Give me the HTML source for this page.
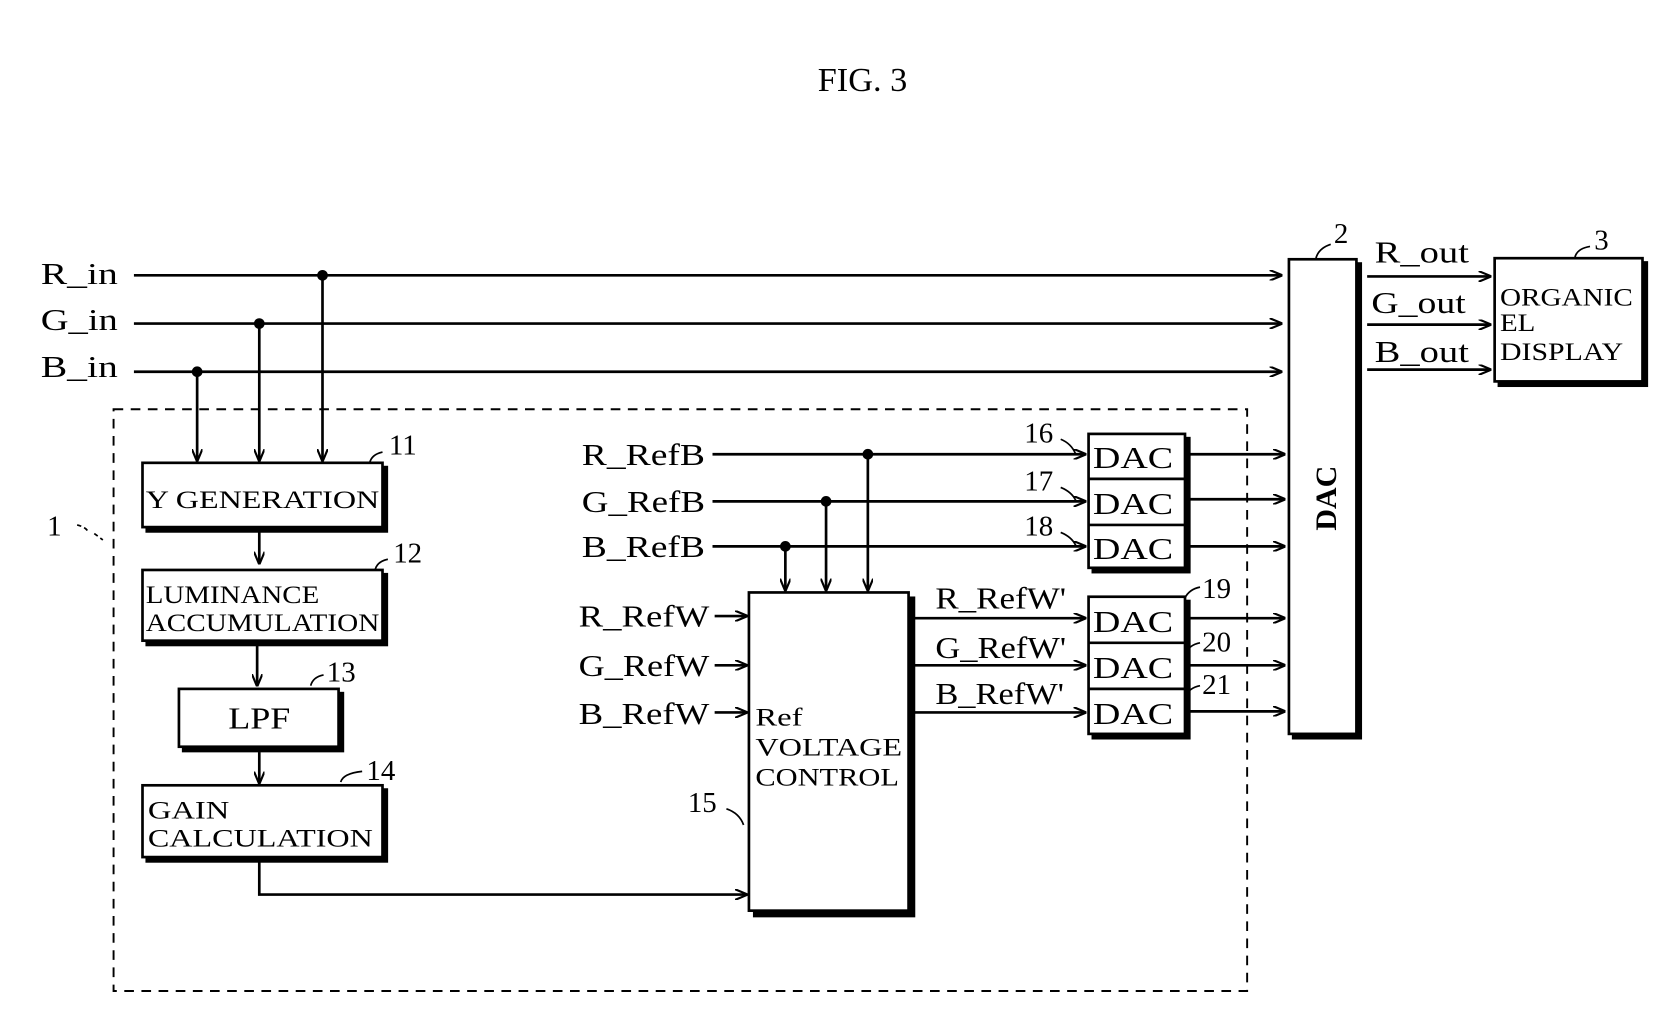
<!DOCTYPE html>
<html><head><meta charset="utf-8"><style>html,body{margin:0;padding:0;background:#fff}svg{display:block}</style></head>
<body>
<svg width="1680" height="1036" viewBox="0 0 1568 967" preserveAspectRatio="none" xmlns="http://www.w3.org/2000/svg" font-family="Liberation Serif, serif" fill="#000">
<defs>
<marker id="a" markerWidth="12" markerHeight="10" refX="11" refY="5" orient="auto" markerUnits="userSpaceOnUse">
<path d="M0,0 L12,5 L0,10" fill="none" stroke="#000" stroke-width="2"/></marker>
</defs>
<rect width="1568" height="967" fill="#fff"/>
<text x="805" y="85" font-size="32" text-anchor="middle">FIG. 3</text>
<g stroke="#000" stroke-width="2.5" fill="none">
<line x1="125" y1="257" x2="1196" y2="257" marker-end="url(#a)"/>
<line x1="125" y1="302" x2="1196" y2="302" marker-end="url(#a)"/>
<line x1="125" y1="347" x2="1196" y2="347" marker-end="url(#a)"/>
<line x1="301" y1="257" x2="301" y2="430" marker-end="url(#a)"/>
<line x1="242" y1="302" x2="242" y2="430" marker-end="url(#a)"/>
<line x1="184" y1="347" x2="184" y2="430" marker-end="url(#a)"/>
<rect x="106" y="382" width="1058" height="543" stroke-dasharray="9,7" stroke-width="1.8"/>
<line x1="242" y1="494" x2="242" y2="526" marker-end="url(#a)"/>
<line x1="240" y1="602" x2="240" y2="640" marker-end="url(#a)"/>
<line x1="242" y1="702" x2="242" y2="731" marker-end="url(#a)"/>
<polyline points="242,802 242,835 697,835" marker-end="url(#a)"/>
<line x1="665" y1="424" x2="1013" y2="424" marker-end="url(#a)"/>
<line x1="665" y1="468" x2="1013" y2="468" marker-end="url(#a)"/>
<line x1="665" y1="510" x2="1013" y2="510" marker-end="url(#a)"/>
<line x1="810" y1="424" x2="810" y2="551" marker-end="url(#a)"/>
<line x1="771" y1="468" x2="771" y2="551" marker-end="url(#a)"/>
<line x1="733" y1="510" x2="733" y2="551" marker-end="url(#a)"/>
<line x1="667" y1="575" x2="697" y2="575" marker-end="url(#a)"/>
<line x1="667" y1="621" x2="697" y2="621" marker-end="url(#a)"/>
<line x1="667" y1="665" x2="697" y2="665" marker-end="url(#a)"/>
<line x1="850" y1="577" x2="1013" y2="577" marker-end="url(#a)"/>
<line x1="850" y1="621" x2="1013" y2="621" marker-end="url(#a)"/>
<line x1="850" y1="665" x2="1013" y2="665" marker-end="url(#a)"/>
<line x1="1108" y1="424" x2="1199" y2="424" marker-end="url(#a)"/>
<line x1="1108" y1="466" x2="1199" y2="466" marker-end="url(#a)"/>
<line x1="1108" y1="510" x2="1199" y2="510" marker-end="url(#a)"/>
<line x1="1108" y1="577" x2="1199" y2="577" marker-end="url(#a)"/>
<line x1="1108" y1="621" x2="1199" y2="621" marker-end="url(#a)"/>
<line x1="1108" y1="664" x2="1199" y2="664" marker-end="url(#a)"/>
<line x1="1276" y1="258" x2="1391" y2="258" marker-end="url(#a)"/>
<line x1="1276" y1="303" x2="1391" y2="303" marker-end="url(#a)"/>
<line x1="1276" y1="345" x2="1391" y2="345" marker-end="url(#a)"/>
</g>
<g fill="#000">
<circle cx="301" cy="257" r="5"/><circle cx="242" cy="302" r="5"/><circle cx="184" cy="347" r="5"/>
<circle cx="810" cy="424" r="5"/><circle cx="771" cy="468" r="5"/><circle cx="733" cy="510" r="5"/>
</g>
<g stroke="#000" stroke-width="2.5">
<rect x="137" y="436" width="224" height="60"/><rect x="133" y="432" width="224" height="60" fill="#fff"/>
<rect x="137" y="536" width="224" height="66"/><rect x="133" y="532" width="224" height="66" fill="#fff"/>
<rect x="171" y="647" width="149" height="54"/><rect x="167" y="643" width="149" height="54" fill="#fff"/>
<rect x="137" y="737" width="224" height="67"/><rect x="133" y="733" width="224" height="67" fill="#fff"/>
<rect x="704" y="558" width="149" height="297"/><rect x="699" y="553" width="149" height="297" fill="#fff"/>
<rect x="1020" y="409" width="90" height="125"/><rect x="1016" y="405" width="90" height="125" fill="#fff"/>
<line x1="1016" y1="447" x2="1106" y2="447"/><line x1="1016" y1="490" x2="1106" y2="490"/>
<rect x="1020" y="561" width="90" height="128"/><rect x="1016" y="557" width="90" height="128" fill="#fff"/>
<line x1="1016" y1="600" x2="1106" y2="600"/><line x1="1016" y1="643" x2="1106" y2="643"/>
<rect x="1207" y="246" width="63" height="443"/><rect x="1203" y="242" width="63" height="443" fill="#fff"/>
<rect x="1399" y="245" width="138" height="115"/><rect x="1395" y="241" width="138" height="115" fill="#fff"/>
</g>
<g font-size="29" lengthAdjust="spacingAndGlyphs">
<text x="38" y="265" textLength="72" lengthAdjust="spacingAndGlyphs">R_in</text>
<text x="38" y="308" textLength="72" lengthAdjust="spacingAndGlyphs">G_in</text>
<text x="38" y="352" textLength="72" lengthAdjust="spacingAndGlyphs">B_in</text>
<text x="543" y="434" textLength="115" lengthAdjust="spacingAndGlyphs">R_RefB</text>
<text x="543" y="478" textLength="115" lengthAdjust="spacingAndGlyphs">G_RefB</text>
<text x="543" y="520" textLength="115" lengthAdjust="spacingAndGlyphs">B_RefB</text>
<text x="540" y="585" textLength="122" lengthAdjust="spacingAndGlyphs">R_RefW</text>
<text x="540" y="631" textLength="122" lengthAdjust="spacingAndGlyphs">G_RefW</text>
<text x="540" y="676" textLength="122" lengthAdjust="spacingAndGlyphs">B_RefW</text>
<text x="873" y="568" textLength="122" lengthAdjust="spacingAndGlyphs">R_RefW'</text>
<text x="873" y="614" textLength="122" lengthAdjust="spacingAndGlyphs">G_RefW'</text>
<text x="873" y="657" textLength="120" lengthAdjust="spacingAndGlyphs">B_RefW'</text>
<text x="1283" y="245" textLength="88" lengthAdjust="spacingAndGlyphs">R_out</text>
<text x="1280" y="292" textLength="88" lengthAdjust="spacingAndGlyphs">G_out</text>
<text x="1283" y="338" textLength="88" lengthAdjust="spacingAndGlyphs">B_out</text>
<text x="1020" y="437" textLength="75" lengthAdjust="spacingAndGlyphs">DAC</text>
<text x="1020" y="480" textLength="75" lengthAdjust="spacingAndGlyphs">DAC</text>
<text x="1020" y="522" textLength="75" lengthAdjust="spacingAndGlyphs">DAC</text>
<text x="1020" y="590" textLength="75" lengthAdjust="spacingAndGlyphs">DAC</text>
<text x="1020" y="633" textLength="75" lengthAdjust="spacingAndGlyphs">DAC</text>
<text x="1020" y="676" textLength="75" lengthAdjust="spacingAndGlyphs">DAC</text>
<text x="213" y="680" textLength="58" lengthAdjust="spacingAndGlyphs">LPF</text>
<text transform="translate(1247,465) rotate(-90)" text-anchor="middle" font-weight="bold" font-size="28">DAC</text>
</g>
<g font-size="24">
<text x="136" y="474" textLength="218" lengthAdjust="spacingAndGlyphs">Y GENERATION</text>
<text x="136" y="563" textLength="162" lengthAdjust="spacingAndGlyphs">LUMINANCE</text>
<text x="136" y="589" textLength="218" lengthAdjust="spacingAndGlyphs">ACCUMULATION</text>
<text x="138" y="764" textLength="76" lengthAdjust="spacingAndGlyphs">GAIN</text>
<text x="138" y="790" textLength="210" lengthAdjust="spacingAndGlyphs">CALCULATION</text>
<text x="705" y="677" textLength="44" lengthAdjust="spacingAndGlyphs">Ref</text>
<text x="705" y="705" textLength="137" lengthAdjust="spacingAndGlyphs">VOLTAGE</text>
<text x="705" y="733" textLength="134" lengthAdjust="spacingAndGlyphs">CONTROL</text>
<text x="1400" y="285" textLength="124" lengthAdjust="spacingAndGlyphs">ORGANIC</text>
<text x="1400" y="309" textLength="33" lengthAdjust="spacingAndGlyphs">EL</text>
<text x="1400" y="336" textLength="115" lengthAdjust="spacingAndGlyphs">DISPLAY</text>
</g>
<g font-size="27">
<text x="363" y="424">11</text><text x="367" y="525">12</text><text x="305" y="636">13</text><text x="342" y="728">14</text>
<text x="642" y="758">15</text><text x="956" y="413">16</text><text x="956" y="458">17</text><text x="956" y="500">18</text>
<text x="1122" y="558">19</text><text x="1122" y="608">20</text><text x="1122" y="648">21</text>
<text x="1245" y="227">2</text><text x="1488" y="233">3</text><text x="44" y="500">1</text>
</g>
<g stroke="#000" stroke-width="1.6" fill="none">
<path d="M345,432 q2,-8 12,-10"/><path d="M350,532 q2,-8 12,-10"/><path d="M290,640 q2,-8 12,-10"/><path d="M318,730 q2,-8 20,-10"/>
<path d="M678,755 q12,4 16,15"/><path d="M990,410 q10,4 14,14"/><path d="M990,455 q10,4 14,12"/><path d="M990,497 q10,4 14,12"/>
<path d="M1106,558 q4,-8 14,-10"/><path d="M1106,610 q4,-8 14,-10"/><path d="M1106,650 q4,-8 14,-10"/>
<path d="M1228,242 q2,-10 14,-14"/><path d="M1470,240 q2,-8 14,-10"/><path d="M72,490 q8,2 10,6 M88,498 l8,6" stroke-dasharray="4,3"/>
</g>
</svg>
</body></html>
